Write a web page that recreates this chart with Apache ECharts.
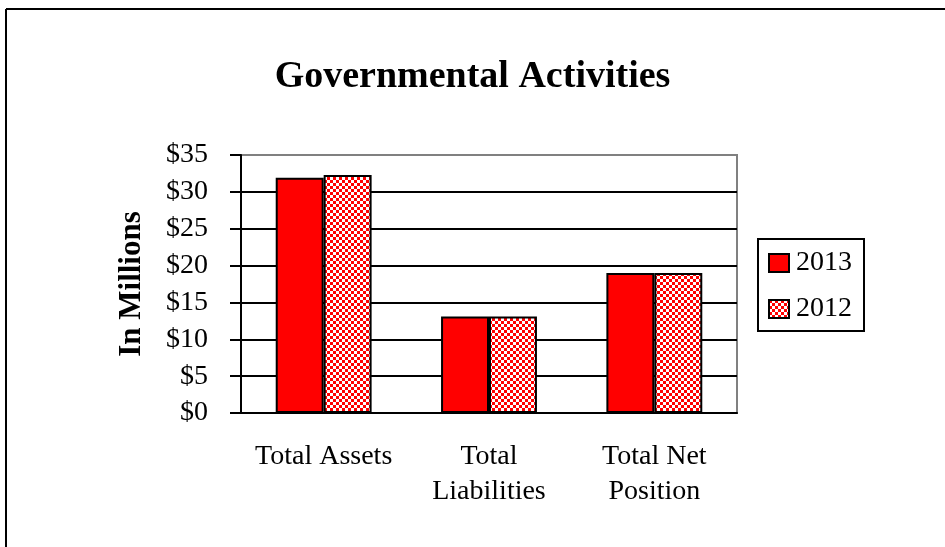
<!DOCTYPE html>
<html>
<head>
<meta charset="utf-8">
<script src="https://cdn.jsdelivr.net/npm/echarts@6/dist/echarts.min.js"></script>
<style>
html,body{margin:0;padding:0;background:#fff;}
#c{width:945px;height:547px;}
</style>
</head>
<body>
<div id="c"></div>
<script>
var categories = ['Total Assets', 'Total\nLiabilities', 'Total Net\nPosition'];
var values2013 = [31.9, 13.1, 19.0];
var values2012 = [32.3, 13.1, 19.0];
var yTicks = [0, 5, 10, 15, 20, 25, 30, 35];

function makeChecker() {
  var cv = document.createElement('canvas');
  cv.width = 6; cv.height = 6;
  var ctx = cv.getContext('2d');
  ctx.fillStyle = '#ffffff';
  ctx.fillRect(0, 0, 6, 6);
  ctx.fillStyle = '#ff0000';
  ctx.fillRect(0, 0, 3, 3);
  ctx.fillRect(3, 3, 3, 3);
  return cv;
}
var checker = { image: makeChecker(), repeat: 'repeat' };

var FONT = '"Liberation Serif", "Times New Roman", serif';
var chart = echarts.init(document.getElementById('c'), null, { renderer: 'canvas' });
var splitColors = yTicks.map(function (v, i) { return i === yTicks.length - 1 ? '#808080' : '#000000'; });

chart.setOption({
  animation: false,
  backgroundColor: '#ffffff',
  title: {
    text: 'Governmental Activities',
    left: 'center',
    top: 53,
    textStyle: { fontFamily: FONT, fontWeight: 'bold', fontSize: 38, color: '#000' }
  },
  legend: {
    orient: 'vertical',
    left: 758,
    top: 239,
    padding: [10, 12, 8, 10],
    itemGap: 18,
    itemWidth: 20,
    itemHeight: 18,
    icon: 'rect',
    borderColor: '#000',
    borderWidth: 2,
    textStyle: { fontFamily: FONT, fontSize: 28, color: '#000', padding: [0, 0, 0, 2] },
    data: ['2013', '2012']
  },
  grid: {
    left: 241, right: 208, top: 155, bottom: 134,
    show: true, borderColor: '#808080', borderWidth: 2, backgroundColor: 'transparent'
  },
  xAxis: {
    type: 'category',
    data: categories,
    axisLine: { lineStyle: { color: '#000', width: 2 } },
    axisTick: { length: 9, lineStyle: { color: '#000', width: 2 } },
    axisLabel: { fontFamily: FONT, fontSize: 28, color: '#000', lineHeight: 35, margin: 26, interval: 0 }
  },
  yAxis: {
    type: 'value',
    min: 0, max: 35, interval: 5,
    name: 'In Millions',
    nameLocation: 'middle',
    nameGap: 94,
    nameTextStyle: { fontFamily: FONT, fontWeight: 'bold', fontSize: 31, color: '#000' },
    axisLine: { show: true, lineStyle: { color: '#000', width: 2 } },
    axisTick: { show: true, inside: false, length: 11, lineStyle: { color: '#000', width: 2 } },
    splitLine: { show: true, lineStyle: { color: splitColors, width: 2 } },
    axisLabel: {
      fontFamily: FONT, fontSize: 28, color: '#000', margin: 33,
      formatter: function (v) { return '$' + v; }
    }
  },
  series: [
    {
      name: '2013', type: 'bar', data: values2013,
      barGap: '0%', barCategoryGap: '42%',
      itemStyle: { color: '#ff0000', borderColor: '#000', borderWidth: 2 }
    },
    {
      name: '2012', type: 'bar', data: values2012,
      itemStyle: { color: checker, borderColor: '#000', borderWidth: 2 }
    }
  ],
  graphic: [
    { type: 'line', shape: { x1: 6, y1: 9, x2: 945, y2: 9 }, style: { stroke: '#000', lineWidth: 2 } },
    { type: 'line', shape: { x1: 6, y1: 9, x2: 6, y2: 547 }, style: { stroke: '#000', lineWidth: 2 } }
  ]
});
</script>
</body>
</html>
